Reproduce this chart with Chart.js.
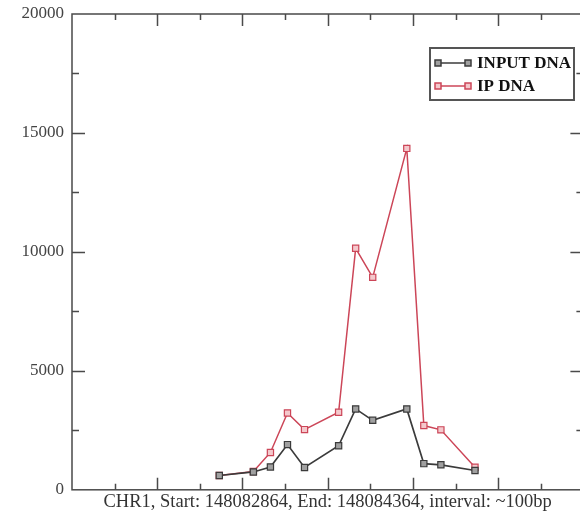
<!DOCTYPE html>
<html>
<head>
<meta charset="utf-8">
<script src="https://cdn.jsdelivr.net/npm/chart.js@4"></script>
<style>
  html, body { margin: 0; padding: 0; background: #fff; overflow: hidden; }
  #wrap { position: relative; width: 589px; height: 516px; }
</style>
</head>
<body>
<div id="wrap"><canvas id="chart"></canvas></div>
<script>
// genomic positions of the probes (~100bp apart, some missing)
const positions = [148082864, 148083064, 148083164, 148083264, 148083364, 148083564,
    148083664, 148083764, 148083964, 148084064, 148084164, 148084364]
const inputDna = [600, 750, 960, 1900, 940, 1850, 3400, 2920, 3400, 1100, 1050, 810]
const ipDna = [600, 770, 1570, 3230, 2530, 3260, 10150, 8930, 14350, 2700, 2520, 950]
const seriesNames = ['INPUT DNA', 'IP DNA']
const xRange = [148082000, 148085000]
const yTicks = [0, 5000, 10000, 15000, 20000]
const xTitle = 'CHR1, Start: 148082864, End: 148084364, interval: ~100bp'

const colors = {
    input: { line: '#3b3b3b', fill: '#a0a0a0' },
    ip: { line: '#cc4658', fill: '#f4c8cc' },
    frame: '#4a4a4a'
}

const toPoints = vals => positions.map((p, i) => ({ x: p, y: vals[i] }))

// frame with inward ticks on all four sides
const framePlugin = {
    id: 'frame',
    afterDatasetsDraw(chart) {
        const { ctx, chartArea: a, scales: { x, y } } = chart
        ctx.save()
        ctx.strokeStyle = colors.frame
        ctx.lineWidth = 1.5
        ctx.strokeRect(a.left, a.top, a.right - a.left, a.bottom - a.top)
        ctx.beginPath()
        for (let v = xRange[0] + 250; v < xRange[1]; v += 250) {
            const px = Math.round(x.getPixelForValue(v)) + 0.5
            const len = (v - xRange[0]) % 500 === 0 ? 12 : 6
            ctx.moveTo(px, a.bottom); ctx.lineTo(px, a.bottom - len)
            ctx.moveTo(px, a.top); ctx.lineTo(px, a.top + len)
        }
        for (let v = 2500; v < 20000; v += 2500) {
            const py = Math.round(y.getPixelForValue(v)) + 0.5
            const len = v % 5000 === 0 ? 13 : 7
            ctx.moveTo(a.left, py); ctx.lineTo(a.left + len, py)
            ctx.moveTo(a.right, py); ctx.lineTo(a.right - len, py)
        }
        ctx.stroke()
        ctx.restore()
    }
}

// boxed legend in the upper right corner
const boxLegend = {
    id: 'boxLegend',
    afterDraw(chart) {
        const ctx = chart.ctx
        const box = { x: 430, y: 48, w: 144, h: 52 }
        ctx.save()
        ctx.fillStyle = '#fff'
        ctx.fillRect(box.x, box.y, box.w, box.h)
        ctx.strokeStyle = '#555'
        ctx.lineWidth = 2
        ctx.strokeRect(box.x, box.y, box.w, box.h)
        const rows = [colors.input, colors.ip]
        rows.forEach((c, i) => {
            const yy = box.y + 15 + i * 23
            ctx.strokeStyle = c.line
            ctx.lineWidth = 1.5
            ctx.beginPath()
            ctx.moveTo(438, yy); ctx.lineTo(468, yy)
            ctx.stroke()
            ;[438, 468].forEach(px => {
                ctx.fillStyle = c.fill
                ctx.fillRect(px - 3, yy - 3, 6, 6)
                ctx.strokeRect(px - 3, yy - 3, 6, 6)
            })
            ctx.fillStyle = '#111'
            ctx.font = 'bold 17px "Liberation Serif"'
            ctx.textBaseline = 'middle'
            ctx.fillText(seriesNames[i], 477, yy + 1)
        })
        ctx.restore()
    }
}

new Chart(document.getElementById('chart'), {
    type: 'line',
    data: {
        datasets: [
            {
                label: seriesNames[0],
                data: toPoints(inputDna),
                borderColor: colors.input.line,
                backgroundColor: colors.input.fill,
                pointBorderColor: colors.input.line,
                pointBackgroundColor: colors.input.fill,
                pointStyle: 'rect',
                pointRadius: 4.4,
                pointBorderWidth: 1.2,
                borderWidth: 1.7,
                tension: 0
            },
            {
                label: seriesNames[1],
                data: toPoints(ipDna),
                borderColor: colors.ip.line,
                backgroundColor: colors.ip.fill,
                pointBorderColor: colors.ip.line,
                pointBackgroundColor: colors.ip.fill,
                pointStyle: 'rect',
                pointRadius: 4.4,
                pointBorderWidth: 1.2,
                borderWidth: 1.5,
                tension: 0
            }
        ]
    },
    options: {
        responsive: true,
        maintainAspectRatio: false,
        animation: false,
        layout: { padding: { top: 14, right: 3, left: 0, bottom: 0 } },
        plugins: {
            legend: { display: false },
            tooltip: { enabled: false }
        },
        scales: {
            x: {
                type: 'linear',
                min: xRange[0],
                max: xRange[1],
                grid: { display: false, drawTicks: false },
                border: { display: false },
                ticks: { display: false, stepSize: 250 },
                title: {
                    display: true,
                    text: xTitle,
                    color: '#333',
                    font: { family: '"Liberation Serif"', size: 18.5 },
                    padding: { top: 1, bottom: 3 }
                }
            },
            y: {
                min: 0,
                max: 20000,
                grid: { display: false, drawTicks: false },
                border: { display: false },
                afterBuildTicks: scale => {
                    scale.ticks = yTicks.map(v => ({ value: v }))
                },
                afterFit: scale => {
                    scale.width = 72
                    scale.paddingTop = 0
                    scale.paddingBottom = 0
                },
                ticks: {
                    padding: 8,
                    color: '#444',
                    font: { family: '"Liberation Serif"', size: 17 },
                    callback: v => String(v)
                }
            }
        }
    },
    plugins: [framePlugin, boxLegend]
})
</script>
</body>
</html>
